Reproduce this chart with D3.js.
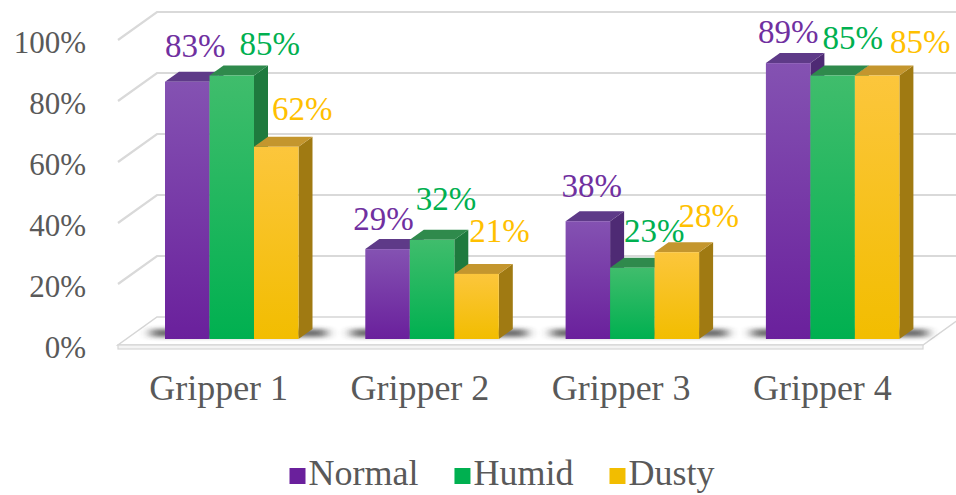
<!DOCTYPE html>
<html>
<head>
<meta charset="utf-8">
<script src="https://cdn.jsdelivr.net/npm/d3@7"></script>
<style>
  html, body { margin: 0; padding: 0; background: #ffffff; }
  svg { display: block; }
</style>
</head>
<body>
<svg id="chart" width="956" height="495"></svg>
<script>
// ---- data ----
const categories = ["Gripper 1", "Gripper 2", "Gripper 3", "Gripper 4"];
const seriesNames = ["Normal", "Humid", "Dusty"];
const normalValues = [0.83, 0.29, 0.38, 0.89];
const humidValues  = [0.85, 0.32, 0.23, 0.85];
const dustyValues  = [0.62, 0.21, 0.28, 0.85];
const tickValues = [0, 0.2, 0.4, 0.6, 0.8, 1.0];

// ---- look ----
const palette = {
  Normal: { label: "#7030a0", front: ["#8452b2", "#6a209c"], top: "#5e3a88", side: "#4e2a74" },
  Humid:  { label: "#00b050", front: ["#40bd6c", "#00b050"], top: "#2f8a4c", side: "#1e7a3e" },
  Dusty:  { label: "#ffc000", front: ["#fcc63c", "#f2bd00"], top: "#c4962e", side: "#a07a12" }
};
// small per-label nudges so neighbouring value labels don't collide
const labelNudge = {
  Normal: [[1, -1], [-11, 5], [-3, 0], [-7, 4]],
  Humid:  [[31, 3], [7, -6], [15, -2], [13, -3]],
  Dusty:  [[19, -3], [16, -8], [25, -1], [36, 1]]
};

const valuesBySeries = { Normal: normalValues, Humid: humidValues, Dusty: dustyValues };
const serif = "'Liberation Serif', 'Times New Roman', serif";

const svg = d3.select("#chart");
const defs = svg.append("defs");

// ---- geometry ----
const floorX0 = 118, floorX1 = 923;
const wallDepth = { dx: 39, dy: -28 };   // oblique depth of the walls / floor
const barDepth = { dx: 14, dy: -10 };    // depth of each column

const yAxis = d3.scaleLinear().domain([0, 1]).range([345, 40]);   // front edge of the wall
const yBar = d3.scaleLinear().domain([0, 1]).range([339, 29]);    // front face of the columns

const xCat = d3.scaleBand().domain(categories).range([floorX0, floorX1]);
const xGroup = d3.scaleBand().domain(categories).range([131.6, 932.8])
  .paddingInner(0.3335).paddingOuter(0.16675);
const xSeries = d3.scaleBand().domain(seriesNames).range([0, xGroup.bandwidth()]);

// ---- gradients ----
seriesNames.forEach(s => {
  const g = defs.append("linearGradient").attr("id", "grad-" + s)
    .attr("x1", 0).attr("y1", 0).attr("x2", 0).attr("y2", 1);
  g.append("stop").attr("offset", "0%").attr("stop-color", palette[s].front[0]);
  g.append("stop").attr("offset", "100%").attr("stop-color", palette[s].front[1]);
});
const blur = defs.append("filter").attr("id", "shadowBlur")
  .attr("x", "-30%").attr("y", "-200%").attr("width", "160%").attr("height", "500%");
blur.append("feGaussianBlur").attr("stdDeviation", "6 2");

// ---- back wall grid ----
const grid = svg.append("g").attr("fill", "none").attr("stroke", "#d9d9d9").attr("stroke-width", 2.2);
tickValues.filter(v => v > 0).forEach(v => {
  const yf = yAxis(v), yb = yf + wallDepth.dy, xb = floorX0 + wallDepth.dx;
  grid.append("path").attr("d", d3.line()([[floorX0, yf], [xb, yb], [960, yb]]));
});

// ---- floor slab ----
const floor = svg.append("g");
floor.append("path")
  .attr("d", d3.line()([
    [floorX0, yAxis(0)], [floorX1, yAxis(0)],
    [floorX1 + wallDepth.dx, yAxis(0) + wallDepth.dy],
    [floorX0 + wallDepth.dx, yAxis(0) + wallDepth.dy]
  ]) + "Z")
  .attr("fill", "#ffffff").attr("stroke", "#d6d6d6").attr("stroke-width", 1.5);
floor.append("rect")
  .attr("x", floorX0).attr("y", yAxis(0))
  .attr("width", floorX1 - floorX0).attr("height", 4)
  .attr("fill", "#f4f4f4").attr("stroke", "#d6d6d6").attr("stroke-width", 1.2);

// ---- soft shadows under the column groups ----
svg.append("g").selectAll("rect").data(categories).join("rect")
  .attr("x", d => xGroup(d) - 14)
  .attr("y", yBar(0) - 10)
  .attr("width", xGroup.bandwidth() + barDepth.dx + 28)
  .attr("height", 8)
  .attr("fill", "#333333")
  .attr("opacity", 0.7)
  .attr("filter", "url(#shadowBlur)");

// ---- columns ----
const bars = [];
categories.forEach((c, i) => {
  seriesNames.forEach(s => {
    bars.push({ cat: c, series: s, value: valuesBySeries[s][i], idx: i });
  });
});

const barG = svg.append("g");
bars.forEach(b => {
  const x0 = xGroup(b.cat) + xSeries(b.series);
  const x1 = x0 + xSeries.bandwidth();
  const yt = yBar(b.value), yb = yBar(0);
  const { dx, dy } = barDepth;
  const g = barG.append("g");
  // right side
  g.append("path")
    .attr("d", d3.line()([[x1, yt], [x1 + dx, yt + dy], [x1 + dx, yb + dy], [x1, yb]]) + "Z")
    .attr("fill", palette[b.series].side);
  // top
  g.append("path")
    .attr("d", d3.line()([[x0, yt], [x0 + dx, yt + dy], [x1 + dx, yt + dy], [x1, yt]]) + "Z")
    .attr("fill", palette[b.series].top);
  // front
  g.append("rect")
    .attr("x", x0).attr("y", yt)
    .attr("width", x1 - x0).attr("height", yb - yt)
    .attr("fill", "url(#grad-" + b.series + ")");
});

// ---- value labels ----
svg.append("g").selectAll("text").data(bars).join("text")
  .attr("x", d => xGroup(d.cat) + xSeries(d.series) + xSeries.bandwidth() / 2 + barDepth.dx / 2
    + labelNudge[d.series][d.idx][0])
  .attr("y", d => yBar(d.value) + barDepth.dy - 14 + labelNudge[d.series][d.idx][1])
  .attr("text-anchor", "middle")
  .attr("font-family", serif)
  .attr("font-size", 33)
  .attr("fill", d => palette[d.series].label)
  .text(d => d3.format(".0%")(d.value));

// ---- y tick labels ----
svg.append("g").selectAll("text").data(tickValues).join("text")
  .attr("x", 86)
  .attr("y", d => yAxis(d) + 2)
  .attr("dominant-baseline", "central")
  .attr("text-anchor", "end")
  .attr("font-family", serif)
  .attr("font-size", 31)
  .attr("fill", "#595959")
  .text(d => d3.format(".0%")(d));

// ---- category labels ----
svg.append("g").selectAll("text").data(categories).join("text")
  .attr("x", d => xCat(d) + xCat.bandwidth() / 2)
  .attr("y", 400)
  .attr("text-anchor", "middle")
  .attr("font-family", serif)
  .attr("font-size", 36)
  .attr("fill", "#595959")
  .text(d => d);

// ---- legend ----
const legend = svg.append("g");
const items = seriesNames.map(s => {
  const g = legend.append("g");
  g.append("rect").attr("x", 0).attr("y", -17).attr("width", 16).attr("height", 16)
    .attr("fill", palette[s].front[1]);
  const t = g.append("text").attr("x", 19).attr("y", 0)
    .attr("font-family", serif).attr("font-size", 36).attr("fill", "#595959").text(s);
  return { g, w: 19 + t.node().getComputedTextLength() };
});
const gap = 36;
const total = d3.sum(items, d => d.w) + gap * (items.length - 1);
let lx = 502 - total / 2;
items.forEach(it => {
  it.g.attr("transform", `translate(${lx},485)`);
  lx += it.w + gap;
});
</script>
</body>
</html>
